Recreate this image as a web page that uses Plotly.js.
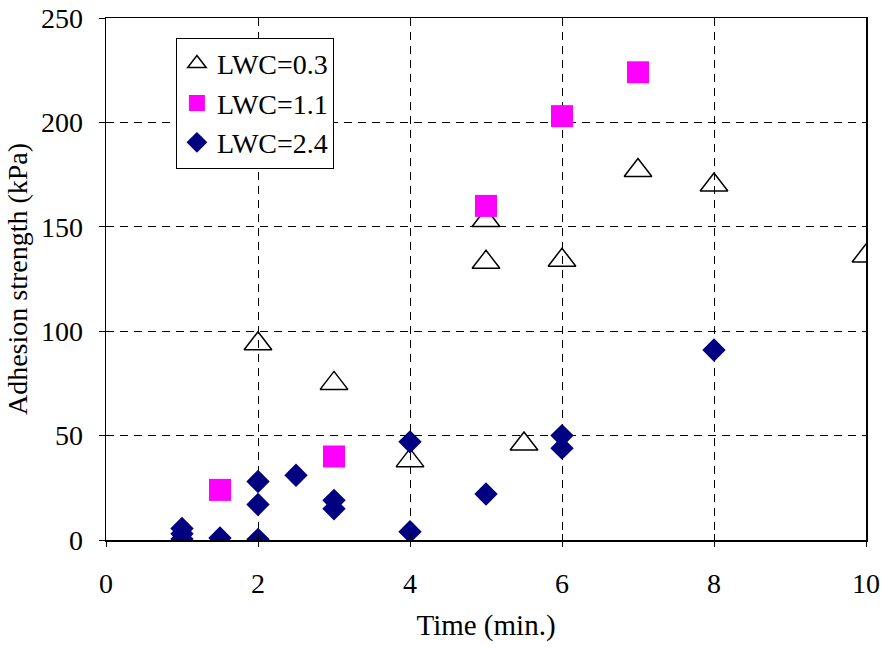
<!DOCTYPE html>
<html>
<head>
<meta charset="utf-8">
<script src="https://cdn.plot.ly/plotly-3.0.1.min.js"></script>
<style>html,body{margin:0;padding:0;background:#fff;}#chart{width:887px;height:649px;}</style>
</head>
<body>
<div id="chart"></div>
<script>
// LWC = 0.3
const timeLwc03 = [1, 2, 3, 4, 5, 5, 5.5, 6, 7, 8, 10];
const adhLwc03  = [0, 94, 75, 38, 153, 133, 46, 134, 177, 170, 136];
// LWC = 1.1
const timeLwc11 = [1.5, 3, 5, 6, 7];
const adhLwc11  = [24, 40, 160, 203, 224];
// LWC = 2.4
const timeLwc24 = [1, 1, 1, 1.5, 2, 2, 2, 2.5, 3, 3, 4, 4, 5, 6, 6, 8];
const adhLwc24  = [5.5, 3, 0.5, 1, 0.3, 17, 28, 31, 15, 19, 47, 4, 22, 50, 44, 91];

const seriesNames = ['LWC=0.3', 'LWC=1.1', 'LWC=2.4'];
const xTicks = [0, 2, 4, 6, 8, 10];
const yTicks = [0, 50, 100, 150, 200, 250];

const FONT = "'Liberation Serif', 'Times New Roman', Times, serif";

const data = [
  {x: timeLwc03, y: adhLwc03, name: seriesNames[0], type: 'scatter', mode: 'markers',
   marker: {symbol: 'triangle-up-open', size: 24, color: '#000', line: {color: '#000', width: 1.5}}},
  {x: timeLwc11, y: adhLwc11, name: seriesNames[1], type: 'scatter', mode: 'markers',
   marker: {symbol: 'square', size: 22, color: '#FF00FF'}},
  {x: timeLwc24, y: adhLwc24, name: seriesNames[2], type: 'scatter', mode: 'markers',
   marker: {symbol: 'diamond', size: 18, color: '#000080'}},
  {x: [], y: [], xaxis: 'x2', yaxis: 'y2', showlegend: false, hoverinfo: 'skip', type: 'scatter', mode: 'markers'},
  {x: [], y: [], xaxis: 'x3', yaxis: 'y3', showlegend: false, hoverinfo: 'skip', type: 'scatter', mode: 'markers'}
];

const tickAxis = (over, anchor, range, vals, side) => ({
  overlaying: over, anchor: anchor, range: range, tickvals: vals,
  ticks: side, ticklen: 6, tickcolor: '#000', tickwidth: 1, showticklabels: false,
  showgrid: false, zeroline: false, showline: false
});

const layout = {
  width: 887, height: 649,
  margin: {l: 106, r: 21, t: 18, b: 109},
  paper_bgcolor: '#fff', plot_bgcolor: '#fff',
  font: {family: FONT, color: '#000', size: 28},
  showlegend: true,
  legend: {
    x: 0.092, y: 0.962, xanchor: 'left', yanchor: 'top',
    bgcolor: '#fff', bordercolor: '#000', borderwidth: 1,
    font: {family: FONT, size: 28, color: '#000'},
    tracegroupgap: 0, itemwidth: 30
  },
  xaxis: {
    range: [0, 10], tickvals: xTicks, ticktext: xTicks.map(String),
    showline: true, linecolor: '#000', linewidth: 1.5, mirror: true,
    ticks: 'outside', ticklen: 18, tickcolor: 'rgba(0,0,0,0)',
    showgrid: true, gridcolor: '#000', gridwidth: 1, griddash: '8px,6px',
    zeroline: false, tickfont: {family: FONT, size: 28},
    title: {text: 'Time (min.)', font: {family: FONT, size: 29}, standoff: 16}
  },
  yaxis: {
    range: [0, 250], tickvals: yTicks, ticktext: yTicks.map(String),
    showline: true, linecolor: '#000', linewidth: 1.5, mirror: true,
    ticks: 'outside', ticklen: 16, tickcolor: 'rgba(0,0,0,0)',
    showgrid: true, gridcolor: '#000', gridwidth: 1, griddash: '8px,6px',
    zeroline: false, tickfont: {family: FONT, size: 28},
    title: {text: 'Adhesion strength (kPa)', font: {family: FONT, size: 28}, standoff: 5}
  },
  xaxis2: tickAxis('x', 'y2', [0, 10], xTicks, 'outside'),
  yaxis2: tickAxis('y', 'x2', [0, 250], yTicks, 'outside'),
  xaxis3: tickAxis('x', 'y3', [0, 10], xTicks, 'inside'),
  yaxis3: tickAxis('y', 'x3', [0, 250], yTicks, 'inside')
};

Plotly.newPlot('chart', data, layout, {displayModeBar: false, staticPlot: true});
</script>
</body>
</html>
